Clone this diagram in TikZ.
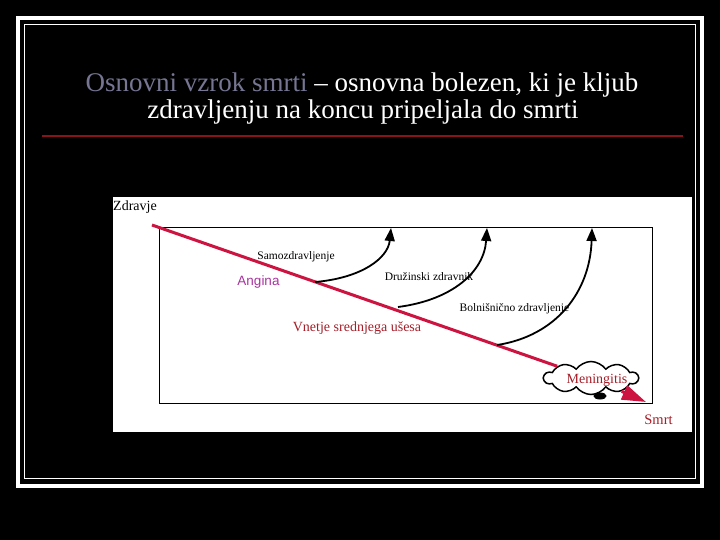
\documentclass[tikz,border=0pt]{standalone}
\usepackage{fontspec}
\setmainfont{Liberation Serif}
\newfontfamily\arialfont{Liberation Sans}
\usetikzlibrary{arrows.meta,shapes.symbols,shapes.geometric}
\definecolor{titlegray}{RGB}{118,118,148}
\definecolor{sepred}{RGB}{135,20,25}
\definecolor{crim}{RGB}{205,20,65}
\definecolor{darkred}{RGB}{165,30,40}
\definecolor{angviolet}{RGB}{170,50,160}
\tikzset{
  frameouter/.style={draw=white, line width=3.8pt},
  frameinner/.style={draw=white, line width=1.2pt},
  lbl/.style={inner sep=0pt, font=\fontsize{11.5}{13}\selectfont, text=black},
  redlbl/.style={inner sep=0pt, font=\fontsize{14}{16}\selectfont, text=darkred},
  healthline/.style={draw=crim, line width=3pt},
  cure/.style={draw=black, line width=1.8pt, -{Triangle[length=13pt,width=10pt]}},
  titlefont/.style={inner sep=0pt, text=white, font=\fontsize{27}{29}\selectfont}
}
\begin{document}
\begin{tikzpicture}[x=1pt,y=-1pt]
\fill[black] (0,0) rectangle (720,540);
\useasboundingbox (0,0) rectangle (720,540);
\draw[frameouter] (17.8,17.8) rectangle (701.7,486.2);
\draw[frameinner] (24.6,24.6) rectangle (695.4,478.4);
% title
\node[titlefont] (t1) at (362,85) {\textcolor{titlegray}{Osnovni vzrok smrti} – osnovna bolezen, ki je kljub};
\node[titlefont] (t2) at (363,112) {zdravljenju na koncu pripeljala do smrti};
\draw[sepred, line width=1.3pt] (42,136) -- (683,136);
% white panel
\fill[white] (112.5,197.5) rectangle (692,432);
\draw[black, line width=0.9pt] (159.3,227.5) rectangle (652.5,403);
% labels
\node[lbl, anchor=west, font=\fontsize{14}{16}\selectfont] (zdr) at (113,207) {Zdravje};
\node[lbl] (samo) at (296,257) {Samozdravljenje};
\node[inner sep=0pt, font=\arialfont\fontsize{13.5}{15}\selectfont, text=angviolet] (ang) at (258.5,282) {Angina};
\node[lbl] (druz) at (429,277) {Družinski zdravnik};
\node[lbl] (boln) at (514.5,309) {Bolnišnično zdravljenje};
\node[redlbl] (vnet) at (357,328) {Vnetje srednjega ušesa};
\node[redlbl, font=\fontsize{14.5}{16}\selectfont] (smrt) at (658.5,420) {Smrt};
% cloud
\node[cloud, cloud puffs=10, cloud puff arc=110, aspect=2.9, draw=black, line width=1.5pt, fill=white,
      minimum width=94pt, minimum height=33pt, inner sep=0pt] (men) at (591,378) {};
\node[redlbl] (mentxt) at (597,380) {Meningitis};
\node[ellipse, draw=black, fill=black, line width=1pt, minimum width=12pt, minimum height=6pt, inner sep=0pt] (puff) at (600,396) {};
% health line
\coordinate (hstart) at (152,225);
\coordinate (death) at (646,402);
\draw[healthline] (hstart) -- (men);
\draw[healthline, -{Triangle[length=24pt,width=15pt]}] (men) -- (death);
% cure arrows
\coordinate (c1s) at (315,282);
\coordinate (c1e) at (391,228);
\coordinate (c2s) at (398,307);
\coordinate (c2e) at (487,228);
\coordinate (c3s) at (497,345);
\coordinate (c3e) at (592,228);
\draw[cure] (c1s) .. controls (362,278) and (388,258) .. (c1e);
\draw[cure] (c2s) .. controls (452,300) and (484,272) .. (c2e);
\draw[cure] (c3s) .. controls (556,336) and (590,292) .. (c3e);
\end{tikzpicture}
\end{document}
